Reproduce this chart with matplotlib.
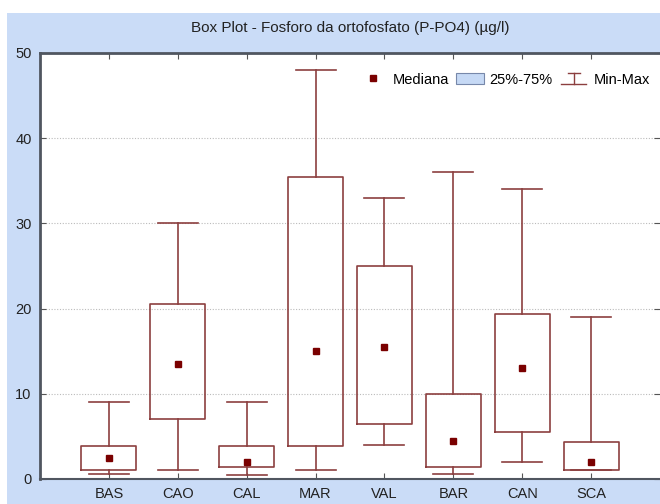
import numpy as np
import matplotlib
matplotlib.use('Agg')
from matplotlib import pyplot as plt
from matplotlib.patches import Rectangle, Patch
from matplotlib.lines import Line2D
from matplotlib.legend_handler import HandlerBase

plt.rcParams['font.family'] = ['Liberation Sans', 'DejaVu Sans']

# Data
stations = ['BAS', 'CAO', 'CAL', 'MAR', 'VAL', 'BAR', 'CAN', 'SCA']
mins = [0.6, 1.0, 0.5, 1.0, 4.0, 0.6, 2.0, 1.0]
q1s = [1.0, 7.0, 1.4, 3.9, 6.5, 1.4, 5.5, 1.0]
medians = [2.5, 13.5, 2.0, 15.0, 15.5, 4.5, 13.0, 2.0]
q3s = [3.9, 20.5, 3.9, 35.4, 25.0, 10.0, 19.4, 4.4]
maxs = [9.0, 30.0, 9.0, 48.0, 33.0, 36.0, 34.0, 19.0]

box_col = '#8c3f3f'
med_col = '#7a0000'
bg_col = '#cadcf7'


class HandlerMinMax(HandlerBase):
    '''I-beam symbol for the Min-Max legend entry'''
    def create_artists(self, legend, orig_handle, xdescent, ydescent,
                       width, height, fontsize, trans):
        cx = width / 2 - xdescent
        top, bot = height * 1.05, -height * 0.05
        kw = dict(color=box_col, lw=1.0, transform=trans)
        return [Line2D([cx, cx], [bot, top], **kw),
                Line2D([cx - width * 0.22, cx + width * 0.22], [top, top], **kw),
                Line2D([cx - width * 0.45, cx + width * 0.45], [bot, bot], **kw)]


fig = plt.figure(figsize=(6.6, 5.04), dpi=100)
fig.patches.append(Rectangle((7 / 660, 0), 1, 1 - 13 / 504, transform=fig.transFigure,
                             facecolor=bg_col, edgecolor='none', zorder=-10))
ax = fig.add_axes([40 / 660, 25 / 504, 620 / 660, 426 / 504])

positions = np.arange(1, len(stations) + 1)
stats = [dict(whislo=lo, q1=a, med=m, q3=b, whishi=hi, fliers=[])
         for lo, a, m, b, hi in zip(mins, q1s, medians, q3s, maxs)]
ax.bxp(stats, positions=positions, widths=0.8, capwidths=0.58, showfliers=False,
       boxprops=dict(color=box_col, lw=1.2),
       whiskerprops=dict(color=box_col, lw=1.2),
       capprops=dict(color=box_col, lw=1.2),
       medianprops=dict(visible=False))
ax.plot(positions, medians, 's', color=med_col, ms=5, ls='none', zorder=5)

ax.set_xlim(0, 9)
ax.set_ylim(0, 50)
ax.set_xticks(positions)
ax.set_xticklabels(stations)
ax.set_yticks(range(0, 51, 10))
ax.tick_params(direction='in', top=True, right=True, labelsize=10.5, length=4,
               color='#555555', labelcolor='#222222', pad=6)
ax.yaxis.grid(True, ls=(0, (1, 1.5)), color='#bbbbbb', lw=0.8)
ax.set_axisbelow(True)
for side in ['left', 'top']:
    ax.spines[side].set_linewidth(2.0)
    ax.spines[side].set_color('#505660')
ax.spines['bottom'].set_linewidth(1.5)
ax.spines['bottom'].set_color('#505660')
ax.spines['right'].set_visible(False)

fig.text(0.53, 1 - 28 / 504, 'Box Plot - Fosforo da ortofosfato (P-PO4) (µg/l)',
         ha='center', va='center', fontsize=11, color='#222222')

handles = [Line2D([], [], marker='s', ls='none', color=med_col, ms=5),
           Patch(facecolor='#c6d9f5', edgecolor='#7788aa', lw=0.8),
           object()]
labels = ['Mediana', '25%-75%', 'Min-Max']
ax.legend(handles, labels, ncol=3, loc='upper right', bbox_to_anchor=(1.005, 0.985),
          frameon=False, fontsize=10.5, handlelength=1.9, handletextpad=0.4,
          columnspacing=0.5, handler_map={object: HandlerMinMax()})

fig.savefig('out.png', dpi=100)
